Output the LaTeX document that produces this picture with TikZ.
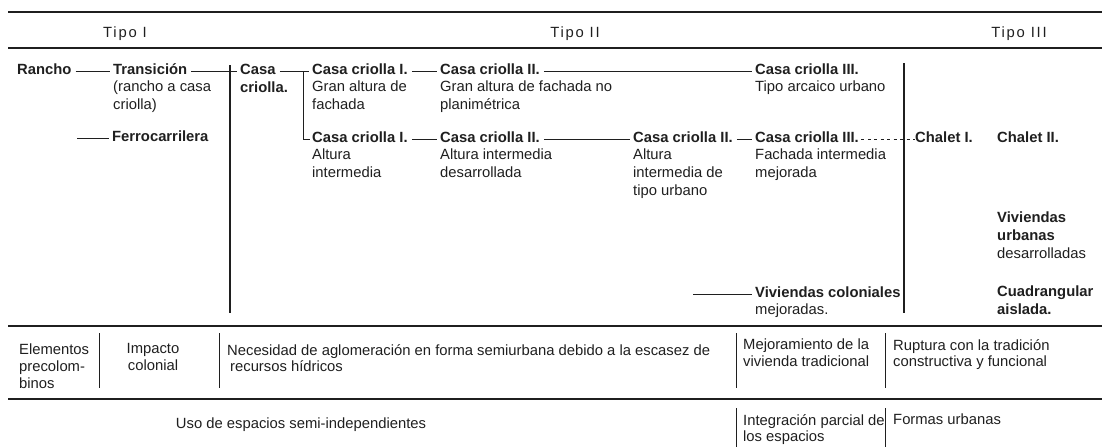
\documentclass[tikz,border=0pt]{standalone}
\usepackage{fontspec}
\setmainfont{Liberation Sans}
\newfontfamily\tipofont[LetterSpace=12]{Liberation Sans}
\colorlet{ink}{black!88}
\begin{document}
\begin{tikzpicture}[x=1pt, y=-1pt, ink,
  head/.style={anchor=base west, inner sep=0pt, align=left, font=\fontsize{14.8}{18}\selectfont\bfseries},
  desc/.style={anchor=north west, inner sep=0pt, align=left, font=\fontsize{14.8}{18}\selectfont},
  foot/.style={anchor=north west, inner sep=0pt, align=left, font=\fontsize{14.8}{16.8}\selectfont},
  tipo/.style={anchor=base, inner sep=0pt, font=\tipofont\fontsize{14.8}{18}\selectfont},
  link/.style={line width=0.8pt, shorten <=4pt, shorten >=3pt},
  rule/.style={line width=1.5pt},
  bar/.style={line width=1.2pt}]
\useasboundingbox (0,0) rectangle (1102,447);

\foreach \y in {12,48,326,399} \draw[rule] (8,\y) -- (1102,\y);
\draw[bar] (230,65) -- (230,313);
\draw[bar] (904,63) -- (904,313);
\foreach \x in {99,219,736,885} \draw[line width=1pt] (\x,333) -- (\x,388);
\foreach \x in {736,885} \draw[line width=1pt] (\x,408) -- (\x,447);

\node (tipoI) at (125,37) [tipo] {Tipo I};
\node (tipoII) at (575,37) [tipo] {Tipo II};
\node (tipoIII) at (1019,37) [tipo] {Tipo III};

\node (rancho) at (17,74) [head] {Rancho};
\node (trans) at (113,74) [head] {Transición};
\node (transD) at (113,81) [desc] {(rancho a casa\\criolla)};
\node (casa) at (240,74) [head] {Casa};
\node (casaD) at (240,92) [head] {criolla.};
\node (ccIa) at (312,74) [head] {Casa criolla I.};
\node (ccIaD) at (312,81) [desc] {Gran altura de\\fachada};
\node (ccIIa) at (440,74) [head] {Casa criolla II.};
\node (ccIIaD) at (440,81) [desc] {Gran altura de fachada no\\planimétrica};
\node (ccIIIa) at (755,74) [head] {Casa criolla III.};
\node (ccIIIaD) at (755,81) [desc] {Tipo arcaico urbano};

\node (ferro) at (112,141) [head] {Ferrocarrilera};
\node (ccIb) at (312,142) [head] {Casa criolla I.};
\node (ccIbD) at (312,149) [desc] {Altura\\intermedia};
\node (ccIIb) at (440,142) [head] {Casa criolla II.};
\node (ccIIbD) at (440,149) [desc] {Altura intermedia\\desarrollada};
\node (ccIIc) at (633,142) [head] {Casa criolla II.};
\node (ccIIcD) at (633,149) [desc] {Altura\\intermedia de\\tipo urbano};
\node (ccIIIb) at (755,142) [head] {Casa criolla III.};
\node (ccIIIbD) at (755,149) [desc] {Fachada intermedia\\mejorada};
\node (chaletI) at (915,142) [head] {Chalet I.};
\node (chaletII) at (997,142) [head] {Chalet II.};

\node (vivU) at (997,212) [desc] {\textbf{Viviendas}\\\textbf{urbanas}\\desarrolladas};
\node (vivC) at (755,297) [head] {Viviendas coloniales};
\node (vivCD) at (755,304) [desc] {mejoradas.};
\node (cuad) at (997,286) [head, anchor=north west] {Cuadrangular\\aislada.};

\coordinate (ferroIn) at (73,0);
\coordinate (fork) at (303,0);
\coordinate (colIn) at (689,0);

\draw[link] (rancho.mid east) to (trans.mid west);
\draw[link] (trans.mid east) to (casa.mid west);
\draw[link] (ferroIn |- ferro.mid west) to (ferro.mid west);
\draw[link] (casa.mid east) to (ccIa.mid west);
\draw[line width=0.8pt, shorten >=2pt] (fork |- casa.mid east) |- (ccIb.mid west);
\draw[link] (ccIa.mid east) to (ccIIa.mid west);
\draw[link] (ccIIa.mid east) to (ccIIIa.mid west);
\draw[link] (ccIb.mid east) to (ccIIb.mid west);
\draw[link] (ccIIb.mid east) to (ccIIc.mid west);
\draw[link] (ccIIc.mid east) to (ccIIIb.mid west);
\draw[line width=0.8pt, dash pattern=on 3pt off 3.5pt, shorten <=2pt] (ccIIIb.mid east) to (chaletI.mid west);
\draw[link] (colIn |- vivC.mid west) to (vivC.mid west);

\node (elem) at (19,344) [foot] {Elementos\\precolom-\\binos};
\node (impacto) at (153,343) [foot, anchor=north, align=center] {Impacto\\colonial};
\node (necesidad) at (227,344) [foot] {Necesidad de aglomeración en forma semiurbana debido a la escasez de\\\hspace*{3pt}recursos hídricos};
\node (mejora) at (743,339) [foot] {Mejoramiento de la\\vivienda tradicional};
\node (ruptura) at (893,339) [foot] {Ruptura con la tradición\\constructiva y funcional};
\node (uso) at (301,428) [foot, anchor=base] {Uso de espacios semi-independientes};
\node (integ) at (743,414) [foot] {Integración parcial de\\los espacios};
\node (formas) at (893,414) [foot] {Formas urbanas};
\end{tikzpicture}
\end{document}
